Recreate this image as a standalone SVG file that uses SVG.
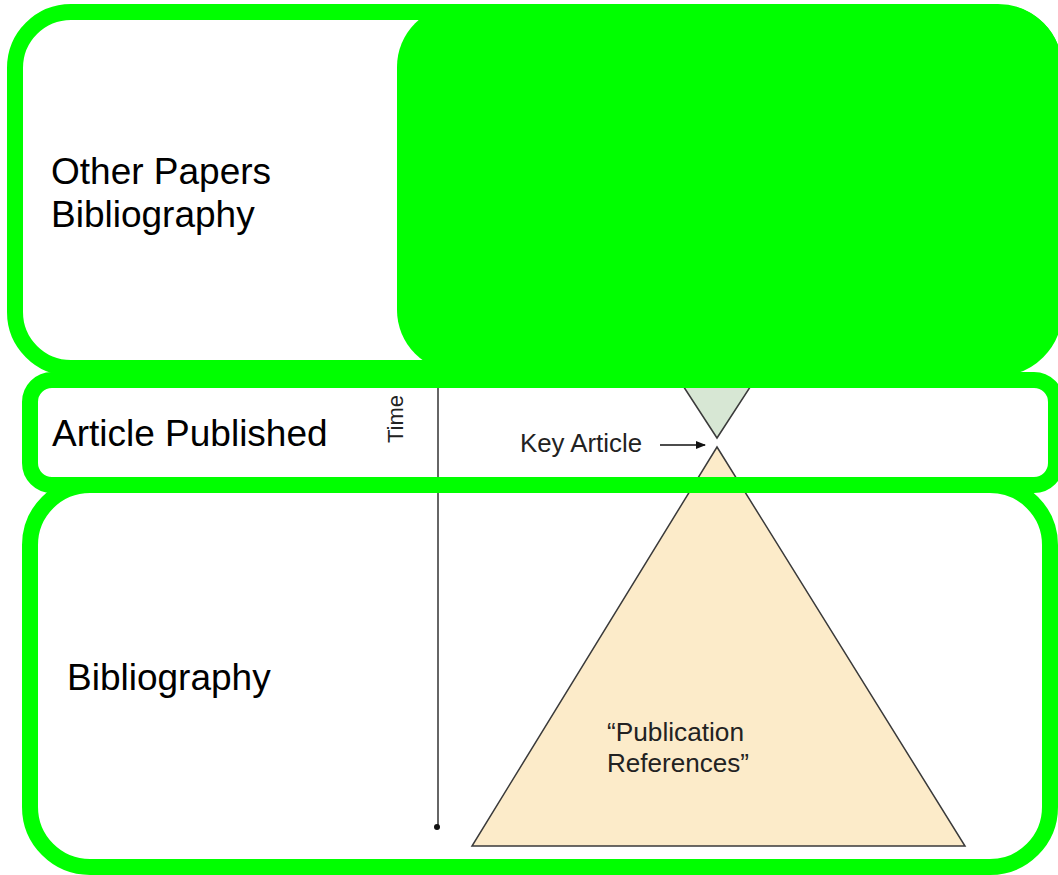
<svg xmlns="http://www.w3.org/2000/svg" width="1058" height="875" viewBox="0 0 1058 875">
<style>
.box{fill:none;stroke:#00ff00;stroke-width:16}
.lbl{font-family:"Liberation Sans",Arial,sans-serif;font-size:37px;fill:#000}
.sm{font-family:"Liberation Sans",Arial,sans-serif;fill:#222}
.tri{stroke:#3a3a3a;stroke-width:1.5}
</style>
<defs>
<marker id="ah" markerWidth="10" markerHeight="8" refX="9" refY="4" orient="auto" markerUnits="userSpaceOnUse">
<path d="M0,0 L10,4 L0,8 Z" fill="#111"/>
</marker>
</defs>
<rect width="1058" height="875" fill="#ffffff"/>
<g id="drawing">
<polygon class="tri" points="650,335 784,335 717,438" fill="#d7e7d4"/>
<polygon class="tri" points="717,447 965,846 472,846" fill="#fcebc9"/>
<line x1="438" y1="380" x2="438" y2="827" stroke="#333" stroke-width="1.5"/>
<circle cx="437" cy="827" r="3" fill="#111"/>
<text class="sm" font-size="22" transform="translate(403,419) rotate(-90)" text-anchor="middle">Time</text>
<text class="sm" font-size="25" x="520" y="452" textLength="122" lengthAdjust="spacingAndGlyphs">Key Article</text>
<text class="sm" font-size="25" x="607" y="741" textLength="137" lengthAdjust="spacingAndGlyphs">“Publication</text>
<text class="sm" font-size="25" x="607" y="772" textLength="142" lengthAdjust="spacingAndGlyphs">References”</text>
</g>
<g id="connectors">
<line x1="660" y1="445" x2="705" y2="445" stroke="#111" stroke-width="1.5" marker-end="url(#ah)"/>
</g>
<g id="top-box">
<rect class="box" x="15" y="12" width="1039" height="356" rx="56"/>
<rect x="397" y="5" width="665" height="367" rx="62" fill="#00ff00"/>
<text class="lbl" x="51" y="184">Other Papers</text>
<text class="lbl" x="51" y="227">Bibliography</text>
</g>
<g id="middle-box">
<rect class="box" x="30" y="380" width="1026" height="105" rx="22"/>
<text class="lbl" x="52" y="446">Article Published</text>
</g>
<g id="bottom-box">
<rect class="box" x="30" y="485" width="1020" height="382" rx="60"/>
<text class="lbl" x="67" y="690">Bibliography</text>
</g>
</svg>
